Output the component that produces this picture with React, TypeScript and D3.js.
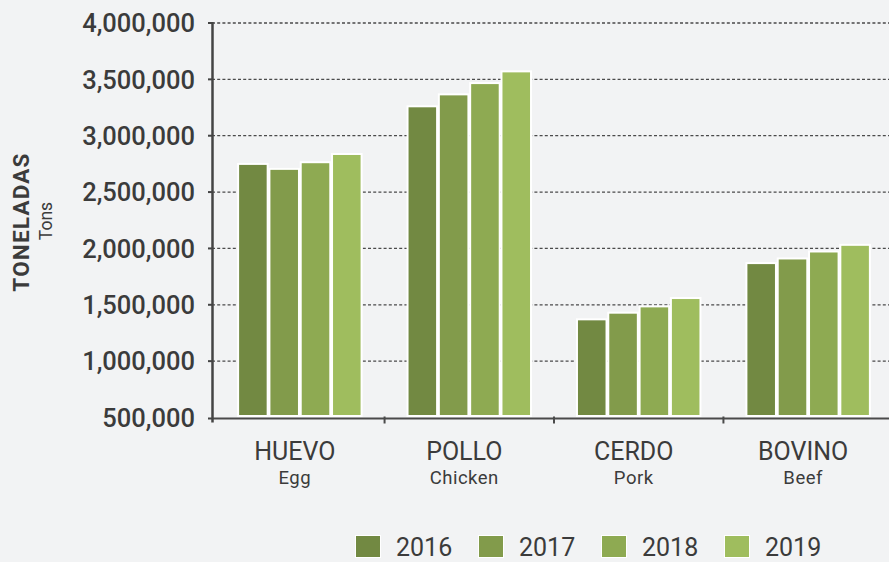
import { useEffect, useRef } from "react";
import { select, scaleBand, scaleLinear, format } from "d3";

const categories = ["HUEVO", "POLLO", "CERDO", "BOVINO"];
const subLabels = ["Egg", "Chicken", "Pork", "Beef"];
const years = ["2016", "2017", "2018", "2019"];

const values2016 = [2741000, 3252000, 1362000, 1861000];
const values2017 = [2697000, 3358000, 1421000, 1902000];
const values2018 = [2756000, 3458000, 1477000, 1964000];
const values2019 = [2829000, 3562000, 1551000, 2023000];

const yTicks = [500000, 1000000, 1500000, 2000000, 2500000, 3000000, 3500000, 4000000];

const colors = ["#728942", "#829b4b", "#8eaa52", "#9fbd5e"];

function App() {
    const svgRef = useRef(null);

    useEffect(() => {
        const Width = 889;
        const Height = 562;
        const Margin = { top: 23, left: 212, bottom: 144 };
        const font = "Roboto, 'DejaVu Sans', sans-serif";
        const textColor = "#3b3b3b";

        const series = [values2016, values2017, values2018, values2019];
        const rows = categories.map((cat, i) => ({
            cat,
            sub: subLabels[i],
            values: years.map((year, j) => ({ year, value: series[j][i] })),
        }));

        const svg = select(svgRef.current)
            .attr("width", Width)
            .attr("height", Height);

        svg.selectAll("*").remove();

        svg.append("rect")
            .attr("width", Width)
            .attr("height", Height)
            .attr("fill", "#f2f3f4");

        // scales
        const yScale = scaleLinear()
            .domain([500000, 4000000])
            .range([Height - Margin.bottom - 0.5, Margin.top]);

        const xScale = scaleBand()
            .domain(categories)
            .range([Margin.left, 896])
            .paddingInner(0.283)
            .paddingOuter(0.16);

        const x1Scale = scaleBand()
            .domain(years)
            .range([0, xScale.bandwidth()])
            .paddingInner(0.12);

        const baseY = yScale(500000);

        // gridlines
        svg.append("g")
            .selectAll("line")
            .data(yTicks.slice(1))
            .join("line")
            .attr("x1", Margin.left)
            .attr("x2", Width)
            .attr("y1", (d) => yScale(d))
            .attr("y2", (d) => yScale(d))
            .attr("stroke", "#4a4a4a")
            .attr("stroke-width", 1.3)
            .attr("stroke-dasharray", "3,2.2");

        // bars
        svg.append("g")
            .selectAll("g")
            .data(rows)
            .join("g")
            .attr("transform", (d) => "translate(" + xScale(d.cat) + ",0)")
            .selectAll("rect")
            .data((d) => d.values)
            .join("rect")
            .attr("x", (d) => x1Scale(d.year))
            .attr("width", x1Scale.bandwidth())
            .attr("y", (d) => yScale(d.value))
            .attr("height", (d) => baseY - yScale(d.value) - 2.5)
            .attr("fill", (d, i) => colors[i])
            .attr("stroke", "#ffffff")
            .attr("stroke-width", 4)
            .attr("paint-order", "stroke");

        // x axis
        const step = xScale.step();
        const gap = step - xScale.bandwidth();
        svg.append("line")
            .attr("x1", Margin.left)
            .attr("x2", Width)
            .attr("y1", baseY + 1)
            .attr("y2", baseY + 1)
            .attr("stroke", "#4a4a4a")
            .attr("stroke-width", 2);

        svg.append("g")
            .selectAll("line")
            .data(categories.slice(1))
            .join("line")
            .attr("x1", (d) => xScale(d) - gap / 2)
            .attr("x2", (d) => xScale(d) - gap / 2)
            .attr("y1", baseY - 1)
            .attr("y2", baseY + 6)
            .attr("stroke", "#4a4a4a")
            .attr("stroke-width", 2);

        // y axis
        svg.append("line")
            .attr("x1", Margin.left + 0.5)
            .attr("x2", Margin.left + 0.5)
            .attr("y1", yScale(4000000) - 1)
            .attr("y2", baseY + 5)
            .attr("stroke", "#444444")
            .attr("stroke-width", 2.5);

        const yAxis = svg.append("g");
        yAxis.selectAll("line")
            .data(yTicks)
            .join("line")
            .attr("x1", Margin.left - 4)
            .attr("x2", Margin.left)
            .attr("y1", (d) => yScale(d) + (d === 500000 ? 1 : 0))
            .attr("y2", (d) => yScale(d) + (d === 500000 ? 1 : 0))
            .attr("stroke", "#444444")
            .attr("stroke-width", 2);

        yAxis.selectAll("text")
            .data(yTicks)
            .join("text")
            .attr("x", Margin.left - 17)
            .attr("y", (d) => yScale(d))
            .attr("dy", "0.36em")
            .attr("text-anchor", "end")
            .attr("font-size", 25.5)
            .attr("font-weight", 500)
            .attr("fill", textColor)
            .text((d) => format(",")(d));

        // category labels
        const labels = svg.append("g");
        labels.selectAll(".cat")
            .data(rows)
            .join("text")
            .attr("class", "cat")
            .attr("x", (d) => xScale(d.cat) + xScale.bandwidth() / 2 - 5)
            .attr("y", 459.5)
            .attr("text-anchor", "middle")
            .attr("font-size", 25)
            .attr("fill", textColor)
            .text((d) => d.cat);

        labels.selectAll(".sub")
            .data(rows)
            .join("text")
            .attr("class", "sub")
            .attr("x", (d) => xScale(d.cat) + xScale.bandwidth() / 2 - 5)
            .attr("y", 484)
            .attr("text-anchor", "middle")
            .attr("font-size", 18.5)
            .attr("letter-spacing", 0.5)
            .attr("fill", textColor)
            .text((d) => d.sub);

        // y label
        svg.append("text")
            .attr("transform", "translate(28.5,222) rotate(-90)")
            .attr("text-anchor", "middle")
            .attr("font-size", 22.5)
            .attr("font-weight", 700)
            .attr("letter-spacing", 1.2)
            .attr("fill", textColor)
            .text("TONELADAS");

        svg.append("text")
            .attr("transform", "translate(51.5,221) rotate(-90)")
            .attr("text-anchor", "middle")
            .attr("font-size", 17.5)
            .attr("font-weight", 400)
            .attr("fill", textColor)
            .text("Tons");

        // legend
        const legend = svg.append("g")
            .selectAll("g")
            .data(years)
            .join("g")
            .attr("transform", (d, i) => "translate(" + (356 + i * 123) + ",536)");

        legend.append("rect")
            .attr("width", 24)
            .attr("height", 21)
            .attr("fill", (d, i) => colors[i])
            .attr("stroke", "#ffffff")
            .attr("stroke-width", 2)
            .attr("paint-order", "stroke");

        legend.append("text")
            .attr("x", 40)
            .attr("y", 20)
            .attr("font-size", 25)
            .attr("fill", textColor)
            .text((d) => d);

        svg.selectAll("text").style("font-family", font);
    }, []);

    return (
        <div style={{ position: "absolute", left: 0, top: 0 }}>
            <svg ref={svgRef} style={{ display: "block" }}></svg>
        </div>
    );
}

export default App;
